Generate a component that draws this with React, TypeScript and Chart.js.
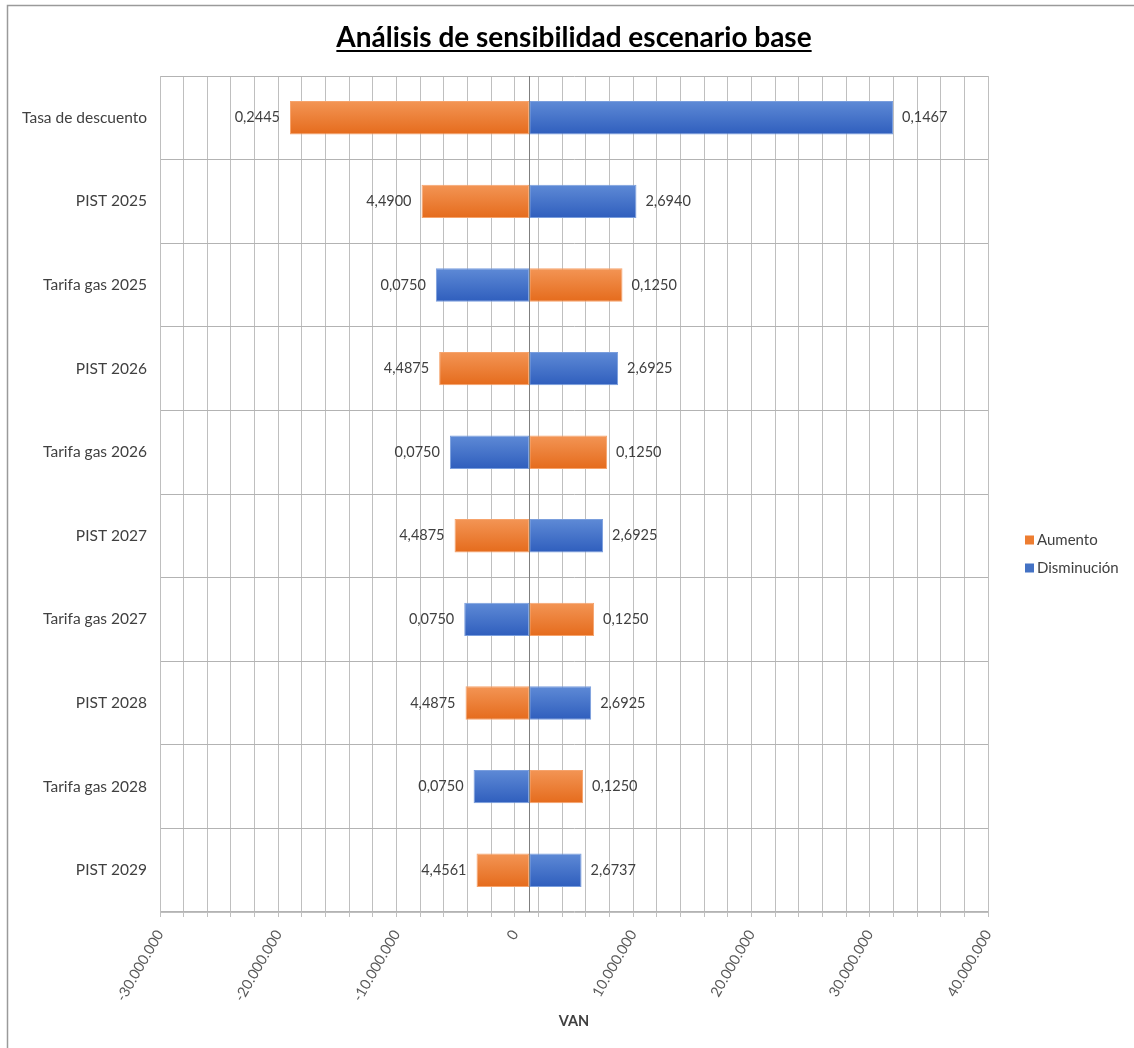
import React, { useEffect, useRef } from "react";
import { Chart, registerables } from "chart.js";

Chart.register(...registerables);

// ---------- data ----------
const categories = [
  "Tasa de descuento",
  "PIST 2025",
  "Tarifa gas 2025",
  "PIST 2026",
  "Tarifa gas 2026",
  "PIST 2027",
  "Tarifa gas 2027",
  "PIST 2028",
  "Tarifa gas 2028",
  "PIST 2029",
];
const baseVAN = 1210000;
const aumentoVAN = [-19010000, -7890000, 9100000, -6400000, 7800000, -5100000, 6700000, -4170000, 5770000, -3240000];
const disminucionVAN = [31970000, 10280000, -6680000, 8730000, -5490000, 7460000, -4280000, 6450000, -3490000, 5640000];
const aumentoLabels = ["0,2445", "4,4900", "0,1250", "4,4875", "0,1250", "4,4875", "0,1250", "4,4875", "0,1250", "4,4561"];
const disminucionLabels = ["0,1467", "2,6940", "0,0750", "2,6925", "0,0750", "2,6925", "0,0750", "2,6925", "0,0750", "2,6737"];
const seriesNames = ["Aumento", "Disminución"];
const titleText = "Análisis de sensibilidad escenario base";
const xAxisTitle = "VAN";
const xMin = -30000000;
const xMax = 40000000;
const xMinorStep = 2000000;
const xLabelStep = 10000000;

// ---------- style ----------
const FONT = "Lato, 'Open Sans', sans-serif";
const ORANGE = { top: "#F39555", bottom: "#E56B1C", flat: "#ED7D31", border: "#F6A36C" };
const BLUE = { top: "#5E8AD6", bottom: "#2F5EBD", flat: "#4472C4", border: "#7A9EDD" };
const GRID = "#BFBFBF";

function fmt(v: number): string {
  const s = String(Math.abs(Math.round(v))).replace(/\B(?=(\d{3})+(?!\d))/g, ".");
  return (v < 0 ? "-" : "") + s;
}

function barGradient(c: { top: string; bottom: string; flat: string }) {
  return (ctx: any) => {
    const chart = ctx.chart;
    const y = chart.scales && chart.scales.y;
    if (!y || !chart.chartArea || ctx.type !== "data") return c.flat;
    const center = y.getPixelForValue(ctx.dataIndex);
    const half = ((chart.chartArea.height / categories.length) * 0.4) / 2;
    const g = chart.ctx.createLinearGradient(0, center - half, 0, center + half);
    g.addColorStop(0, c.top);
    g.addColorStop(1, c.bottom);
    return g;
  };
}

const decorPlugin = {
  id: "decor",
  beforeDraw(chart: any) {
    const ctx = chart.ctx;
    ctx.save();
    ctx.strokeStyle = "#9A9A9A";
    ctx.lineWidth = 1.5;
    ctx.beginPath();
    ctx.moveTo(7.5, chart.height);
    ctx.lineTo(7.5, 5.5);
    ctx.lineTo(chart.width, 5.5);
    ctx.stroke();
    ctx.restore();
  },
  afterDatasetsDraw(chart: any) {
    const ctx = chart.ctx;
    const xs = chart.scales.x;
    const ys = chart.scales.y;
    const area = chart.chartArea;
    ctx.save();
    // base (category axis) line
    const bx = Math.round(xs.getPixelForValue(baseVAN)) + 0.5;
    ctx.strokeStyle = "#7F7F7F";
    ctx.lineWidth = 1;
    ctx.beginPath();
    ctx.moveTo(bx, area.top);
    ctx.lineTo(bx, area.bottom);
    ctx.stroke();
    // data labels
    ctx.font = `14.5px ${FONT}`;
    ctx.fillStyle = "#404040";
    ctx.textBaseline = "middle";
    const sets = [
      { vals: aumentoVAN, labels: aumentoLabels },
      { vals: disminucionVAN, labels: disminucionLabels },
    ];
    sets.forEach((s) => {
      s.vals.forEach((v, i) => {
        const x = xs.getPixelForValue(v);
        const y = ys.getPixelForValue(i);
        if (v < baseVAN) {
          ctx.textAlign = "right";
          ctx.fillText(s.labels[i], x - 10, y);
        } else {
          ctx.textAlign = "left";
          ctx.fillText(s.labels[i], x + 9, y);
        }
      });
    });
    ctx.restore();
  },
  afterDraw(chart: any) {
    const ctx = chart.ctx;
    const area = chart.chartArea;
    ctx.save();
    // title
    ctx.font = `bold 28px ${FONT}`;
    ctx.fillStyle = "#000000";
    ctx.textAlign = "center";
    ctx.textBaseline = "alphabetic";
    const cx = (area.left + area.right) / 2;
    ctx.fillText(titleText, cx, 47);
    const w = ctx.measureText(titleText).width;
    ctx.fillRect(cx - w / 2, 50, w, 2);
    // legend
    ctx.font = `15px ${FONT}`;
    ctx.textAlign = "left";
    ctx.textBaseline = "middle";
    const items = [
      { name: seriesNames[0], color: ORANGE.flat, y: 540 },
      { name: seriesNames[1], color: BLUE.flat, y: 568 },
    ];
    items.forEach((it) => {
      ctx.fillStyle = it.color;
      ctx.fillRect(1025, it.y - 4.5, 9, 9);
      ctx.fillStyle = "#404040";
      ctx.fillText(it.name, 1037, it.y);
    });
    ctx.restore();
  },
};

export default function App() {
  const ref = useRef<HTMLCanvasElement | null>(null);
  useEffect(() => {
    document.body.style.margin = "0";
    const canvas = ref.current;
    if (!canvas) return;
    const chart = new Chart(canvas, {
      type: "bar",
      data: {
        labels: categories,
        datasets: [
          {
            label: seriesNames[0],
            data: aumentoVAN.map((v) => [baseVAN, v]) as any,
            backgroundColor: barGradient(ORANGE) as any,
            borderColor: ORANGE.border,
            borderWidth: 1,
            borderSkipped: false,
            grouped: false,
            categoryPercentage: 1,
            barPercentage: 0.4,
          },
          {
            label: seriesNames[1],
            data: disminucionVAN.map((v) => [baseVAN, v]) as any,
            backgroundColor: barGradient(BLUE) as any,
            borderColor: BLUE.border,
            borderWidth: 1,
            borderSkipped: false,
            grouped: false,
            categoryPercentage: 1,
            barPercentage: 0.4,
          },
        ],
      },
      options: {
        indexAxis: "y",
        responsive: false,
        animation: false,
        layout: { padding: { top: 76, right: 146, bottom: 18, left: 0 } },
        plugins: {
          legend: { display: false },
          title: { display: false },
          tooltip: { enabled: false },
        },
        scales: {
          x: {
            type: "linear",
            min: xMin,
            max: xMax,
            afterFit: (scale: any) => {
              scale.height = 118;
            },
            ticks: {
              stepSize: xMinorStep,
              autoSkip: false,
              minRotation: 60,
              maxRotation: 60,
              padding: 10,
              color: "#595959",
              font: { family: FONT, size: 14.5 },
              callback: (v: any) => (Number(v) % xLabelStep === 0 ? fmt(Number(v)) : ""),
            },
            grid: { color: GRID, lineWidth: 1, tickLength: 5, tickColor: GRID },
            border: { color: GRID },
            title: {
              display: true,
              text: xAxisTitle,
              color: "#404040",
              font: { family: FONT, size: 14.5, weight: "bold" },
              padding: { top: 0, bottom: 0 },
            },
          },
          y: {
            type: "category",
            afterFit: (scale: any) => {
              scale.width = 160;
            },
            ticks: {
              color: "#404040",
              padding: 13,
              font: { family: FONT, size: 15.5 },
            },
            grid: { color: "#B3B3B3", lineWidth: 1, drawTicks: false, offset: true },
            border: { color: GRID },
          },
        },
      },
      plugins: [decorPlugin],
    } as any);
    return () => chart.destroy();
  }, []);
  return <canvas ref={ref} width={1134} height={1048} style={{ display: "block" }} />;
}
